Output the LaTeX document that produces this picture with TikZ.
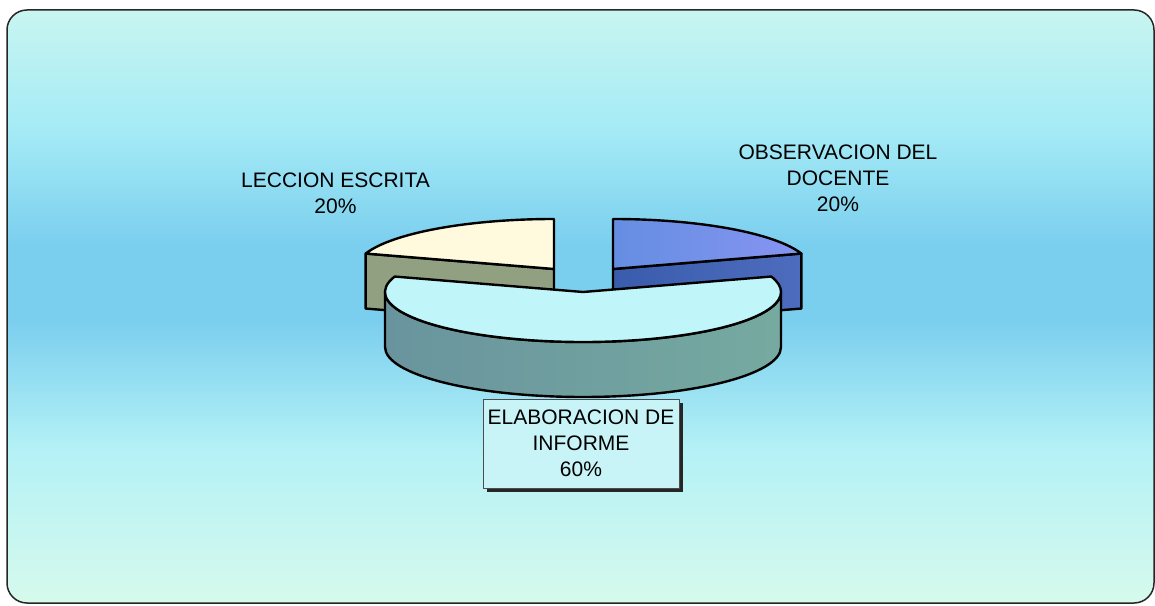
\documentclass[tikz,border=0pt]{standalone}
\usepackage{fontspec}
\setmainfont{Liberation Sans}
\usetikzlibrary{calc,shadows}
\definecolor{bgtop}{RGB}{200,245,240}
\definecolor{bghigh}{RGB}{165,235,246}
\definecolor{bgmid}{RGB}{122,206,238}
\definecolor{bglow}{RGB}{180,241,246}
\definecolor{bgbot}{RGB}{214,250,236}
\definecolor{ltop}{RGB}{255,250,222}
\definecolor{lside}{RGB}{145,160,128}
\definecolor{rtopa}{RGB}{100,142,226}
\definecolor{rtopb}{RGB}{135,148,242}
\definecolor{rsidea}{RGB}{58,92,172}
\definecolor{rsideb}{RGB}{78,108,190}
\definecolor{btop}{RGB}{192,246,250}
\definecolor{bsidea}{RGB}{105,148,158}
\definecolor{bsideb}{RGB}{118,170,160}
\definecolor{boxfill}{RGB}{200,244,248}
\pgfdeclareverticalshading{bgshade}{100bp}{color(0bp)=(bgbot); color(25bp)=(bgbot); color(38bp)=(bglow); color(49bp)=(bgmid); color(55bp)=(bgmid); color(65bp)=(bghigh); color(75bp)=(bgtop); color(100bp)=(bgtop)}
\begin{document}
\begin{tikzpicture}[x=1pt,y=1pt,line join=round,
  pieline/.style={draw=black,line width=2.4pt},
  lbl/.style={font=\fontsize{21}{26}\selectfont,align=center,inner sep=0pt,text=black}]
\useasboundingbox (0,0) rectangle (1155,605);
\fill[white] (0,0) rectangle (1155,605);
\shade[shading=bgshade,rounded corners=20pt] (7,2) rectangle (1154,595);
\draw[line width=1.5pt,rounded corners=20pt,draw=black!85] (7,2) rectangle (1154,595);

% centres of the three slices
\coordinate (L) at (554,336);
\coordinate (R) at (613,336);
\coordinate (B) at (583,313);

% left slice (LECCION ESCRITA)
\filldraw[pieline,fill=lside] (L) -- ($(L)+(162:198 and 50)$) -- ++(0,-55) -- ($(L)+(0,-55)$) -- cycle;
\filldraw[pieline,fill=ltop] (L) -- ++(0,50) arc[start angle=90,end angle=162,x radius=198,y radius=50] -- cycle;

% right slice (OBSERVACION DEL DOCENTE)
\shadedraw[pieline,left color=rsidea,right color=rsideb] (R) -- ($(R)+(18:198 and 50)$) -- ++(0,-55) -- ($(R)+(0,-55)$) -- cycle;
\shadedraw[pieline,left color=rtopa,right color=rtopb] (R) -- ++(0,50) arc[start angle=90,end angle=18,x radius=198,y radius=50] -- cycle;

% big slice (ELABORACION DE INFORME)
\shadedraw[pieline,left color=bsidea,right color=bsideb] ($(B)+(180:198 and 50)$) arc[start angle=180,end angle=360,x radius=198,y radius=50] -- ++(0,-55) arc[start angle=360,end angle=180,x radius=198,y radius=50] -- cycle;
\filldraw[pieline,fill=btop] (B) -- ($(B)+(162:198 and 50)$) arc[start angle=162,end angle=378,x radius=198,y radius=50] -- cycle;

% labels
\node[lbl,anchor=north] (lec) at (335.5,432) {LECCION ESCRITA\\20\%};
\node[lbl,anchor=north] (obs) at (838,460) {OBSERVACION DEL\\DOCENTE\\20\%};
\node[lbl,draw=black!70,line width=0.8pt,fill=boxfill,minimum width=196pt,minimum height=89pt,
  drop shadow={shadow xshift=4pt,shadow yshift=-4pt,fill=black!85,opacity=1}] (elab) at (581,161.5)
  {ELABORACION DE\\INFORME\\60\%};
\end{tikzpicture}
\end{document}
